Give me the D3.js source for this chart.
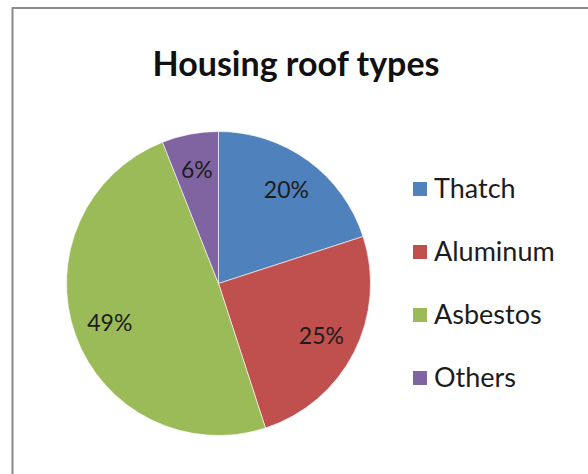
<!DOCTYPE html>
<html>
<head>
<meta charset="utf-8">
<script src="https://cdn.jsdelivr.net/npm/d3@7"></script>
<style>
  html, body { margin: 0; padding: 0; background: #fff; }
  svg { display: block; }
  text { font-family: Lato, "Open Sans", sans-serif; }
</style>
</head>
<body>
<svg id="chart" width="588" height="474"></svg>
<script>
// Roof type shares (percent)
const categories = ["Thatch", "Aluminum", "Asbestos", "Others"];
const shares = [20, 25, 49, 6];
const sliceColors = ["#4F81BD", "#C0504D", "#9BBB59", "#8064A2"];
const chartTitle = "Housing roof types";

const svg = d3.select("#chart");

// chart frame (runs past the right and bottom edges)
svg.append("rect")
  .attr("x", 12.5).attr("y", 8)
  .attr("width", 620).attr("height", 500)
  .attr("fill", "#fff")
  .attr("stroke", "#8a8a8a")
  .attr("stroke-width", 2);

// title
svg.append("text")
  .attr("x", 296).attr("y", 76)
  .attr("text-anchor", "middle")
  .attr("font-size", 34)
  .attr("font-weight", "bold")
  .attr("fill", "#111")
  .text(chartTitle);

const color = d3.scaleOrdinal().domain(categories).range(sliceColors);

const cx = 218.5, cy = 283.5, r = 152;
const data = categories.map((c, i) => ({ name: c, value: shares[i] }));

const pie = d3.pie().value(d => d.value).sort(null);
const arc = d3.arc().innerRadius(0).outerRadius(r);
const labelArc = d3.arc().innerRadius(r * 0.76).outerRadius(r * 0.76);

const g = svg.append("g").attr("transform", `translate(${cx},${cy})`);
const arcs = pie(data);

g.selectAll("path.slice")
  .data(arcs)
  .join("path")
  .attr("class", "slice")
  .attr("d", arc)
  .attr("fill", d => color(d.data.name))
  .attr("stroke", "#fff")
  .attr("stroke-width", 0.6);

g.selectAll("text.pct")
  .data(arcs)
  .join("text")
  .attr("class", "pct")
  .attr("transform", d => `translate(${labelArc.centroid(d)})`)
  .attr("text-anchor", "middle")
  .attr("dy", "0.36em")
  .attr("font-size", 23)
  .attr("fill", "#1c1c1c")
  .text(d => d.data.value + "%");

// legend
const legend = svg.append("g").attr("transform", "translate(413,0)");
const rowY = d3.scalePoint().domain(categories).range([188, 377]);

const rows = legend.selectAll("g.row")
  .data(categories)
  .join("g")
  .attr("class", "row")
  .attr("transform", d => `translate(0,${rowY(d)})`);

rows.append("rect")
  .attr("x", 0).attr("y", -6)
  .attr("width", 14).attr("height", 14)
  .attr("fill", d => color(d));

rows.append("text")
  .attr("x", 21).attr("y", 0)
  .attr("dy", "0.36em")
  .attr("font-size", 27)
  .attr("fill", "#1c1c1c")
  .text(d => d);
</script>
</body>
</html>
